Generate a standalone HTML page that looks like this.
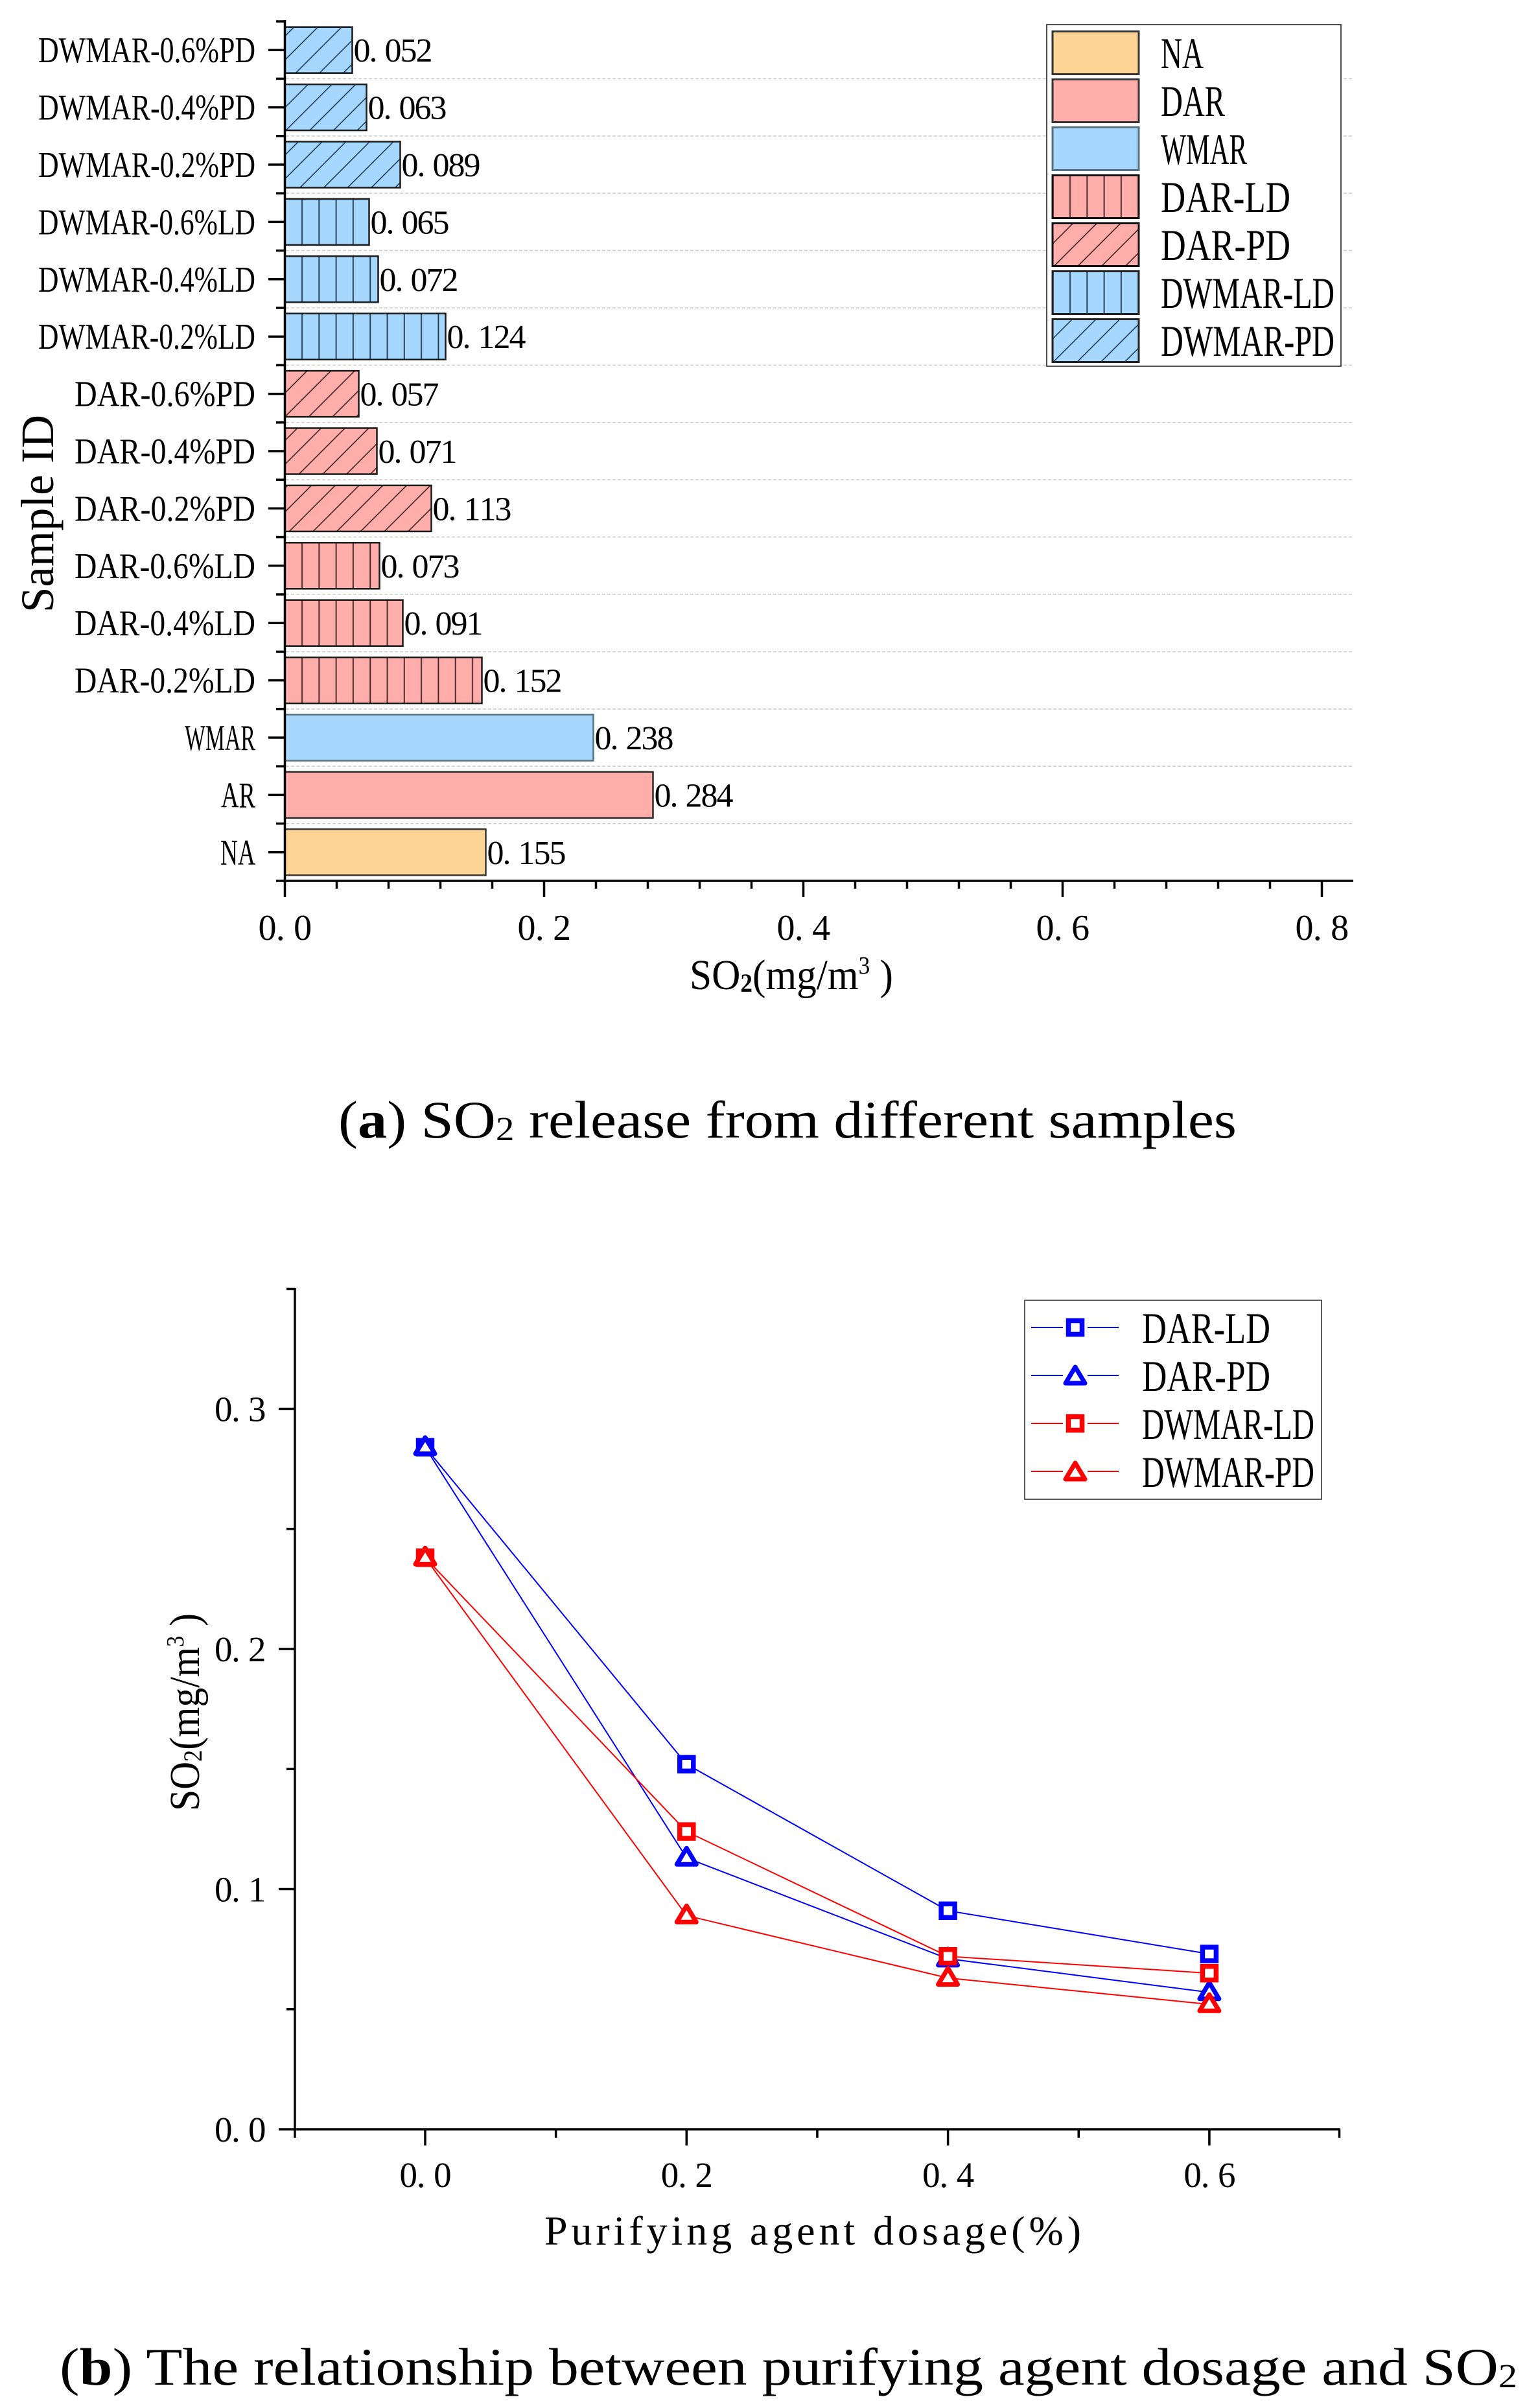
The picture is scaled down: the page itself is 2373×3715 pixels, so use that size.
<!DOCTYPE html>
<html><head><meta charset="utf-8"><style>
html,body{margin:0;padding:0;background:#fff;}
svg{display:block;}
text{font-family:"Liberation Serif","Noto Serif CJK SC",serif;fill:#000;}
</style></head><body>
<svg width="2373" height="3715" viewBox="0 0 2373 3715" xmlns="http://www.w3.org/2000/svg">
<defs>
<pattern id="vp" patternUnits="userSpaceOnUse" x="426.55" y="0" width="26.3" height="20"><rect width="26.3" height="20" fill="#FFAEAB"/><line x1="13.15" y1="0" x2="13.15" y2="20" stroke="#4d2b2b" stroke-width="2"/></pattern>
<pattern id="vb" patternUnits="userSpaceOnUse" x="426.55" y="0" width="26.3" height="20"><rect width="26.3" height="20" fill="#A5D7FF"/><line x1="13.15" y1="0" x2="13.15" y2="20" stroke="#2b4257" stroke-width="2"/></pattern>
<pattern id="dp" patternUnits="userSpaceOnUse" x="0" y="0" width="25.95" height="20" patternTransform="rotate(45)"><rect x="-1" y="-1" width="28" height="22" fill="#FFAEAB"/><line x1="13" y1="-2" x2="13" y2="22" stroke="#3a2020" stroke-width="1.6"/></pattern>
<pattern id="db" patternUnits="userSpaceOnUse" x="0" y="0" width="25.95" height="20" patternTransform="rotate(45)"><rect x="-1" y="-1" width="28" height="22" fill="#A5D7FF"/><line x1="13" y1="-2" x2="13" y2="22" stroke="#1f3a55" stroke-width="1.6"/></pattern>
<pattern id="vpL" patternUnits="userSpaceOnUse" x="1637.85" y="0" width="26.3" height="20"><rect width="26.3" height="20" fill="#FFAEAB"/><line x1="13.15" y1="0" x2="13.15" y2="20" stroke="#4d2b2b" stroke-width="2"/></pattern>
<pattern id="vbL" patternUnits="userSpaceOnUse" x="1637.85" y="0" width="26.3" height="20"><rect width="26.3" height="20" fill="#A5D7FF"/><line x1="13.15" y1="0" x2="13.15" y2="20" stroke="#2b4257" stroke-width="2"/></pattern>
</defs>

<!-- ================= CHART A ================= -->
<g stroke="#cfcfcf" stroke-width="1.6" stroke-dasharray="5,3">
<line x1="441" y1="121.4" x2="2086" y2="121.4"/>
<line x1="441" y1="209.8" x2="2086" y2="209.8"/>
<line x1="441" y1="298.2" x2="2086" y2="298.2"/>
<line x1="441" y1="386.6" x2="2086" y2="386.6"/>
<line x1="441" y1="475" x2="2086" y2="475"/>
<line x1="441" y1="563.4" x2="2086" y2="563.4"/>
<line x1="441" y1="651.8" x2="2086" y2="651.8"/>
<line x1="441" y1="740.2" x2="2086" y2="740.2"/>
<line x1="441" y1="828.6" x2="2086" y2="828.6"/>
<line x1="441" y1="917" x2="2086" y2="917"/>
<line x1="441" y1="1005.4" x2="2086" y2="1005.4"/>
<line x1="441" y1="1093.8" x2="2086" y2="1093.8"/>
<line x1="441" y1="1182.2" x2="2086" y2="1182.2"/>
<line x1="441" y1="1270.6" x2="2086" y2="1270.6"/>
</g>

<g stroke="#1a1a1a" stroke-width="2.5">
<rect x="439.5" y="41.7" width="104" height="71" fill="url(#db)"/>
<rect x="439.5" y="130.1" width="126" height="71" fill="url(#db)"/>
<rect x="439.5" y="218.5" width="178" height="71" fill="url(#db)"/>
<rect x="439.5" y="306.9" width="130" height="71" fill="url(#vb)"/>
<rect x="439.5" y="395.3" width="144" height="71" fill="url(#vb)"/>
<rect x="439.5" y="483.7" width="248" height="71" fill="url(#vb)"/>
<rect x="439.5" y="572.1" width="114" height="71" fill="url(#dp)"/>
<rect x="439.5" y="660.5" width="142" height="71" fill="url(#dp)"/>
<rect x="439.5" y="748.9" width="226" height="71" fill="url(#dp)"/>
<rect x="439.5" y="837.3" width="146" height="71" fill="url(#vp)"/>
<rect x="439.5" y="925.7" width="182" height="71" fill="url(#vp)"/>
<rect x="439.5" y="1014.1" width="304" height="71" fill="url(#vp)"/>
<rect x="439.5" y="1102.5" width="476" height="71" fill="#A5D7FF" stroke="#56707f"/>
<rect x="439.5" y="1190.9" width="568" height="71" fill="#FFAEAB" stroke="#2a2a2a"/>
<rect x="439.5" y="1279.3" width="310" height="71" fill="#FFD494" stroke="#333"/>
</g>

<!-- value labels (monospaced cells) -->
<g font-size="52">
<text x="545.5 569.5 593.5 617.5 641.5" y="95.2">0.052</text>
<text x="567.5 591.5 615.5 639.5 663.5" y="183.6">0.063</text>
<text x="619.5 643.5 667.5 691.5 715.5" y="272">0.089</text>
<text x="571.5 595.5 619.5 643.5 667.5" y="360.4">0.065</text>
<text x="585.5 609.5 633.5 657.5 681.5" y="448.8">0.072</text>
<text x="689.5 713.5 737.5 761.5 785.5" y="537.2">0.124</text>
<text x="555.5 579.5 603.5 627.5 651.5" y="625.6">0.057</text>
<text x="583.5 607.5 631.5 655.5 679.5" y="714">0.071</text>
<text x="667.5 691.5 715.5 739.5 763.5" y="802.4">0.113</text>
<text x="587.5 611.5 635.5 659.5 683.5" y="890.8">0.073</text>
<text x="623.5 647.5 671.5 695.5 719.5" y="979.2">0.091</text>
<text x="745.5 769.5 793.5 817.5 841.5" y="1067.6">0.152</text>
<text x="917.5 941.5 965.5 989.5 1013.5" y="1156">0.238</text>
<text x="1009.5 1033.5 1057.5 1081.5 1105.5" y="1244.4">0.284</text>
<text x="751.5 775.5 799.5 823.5 847.5" y="1332.8">0.155</text>
</g>

<g font-size="56">
<text x="59" y="96.2" textLength="335" lengthAdjust="spacingAndGlyphs">DWMAR-0.6%PD</text>
<text x="59" y="184.6" textLength="335" lengthAdjust="spacingAndGlyphs">DWMAR-0.4%PD</text>
<text x="59" y="273" textLength="335" lengthAdjust="spacingAndGlyphs">DWMAR-0.2%PD</text>
<text x="59" y="361.4" textLength="335" lengthAdjust="spacingAndGlyphs">DWMAR-0.6%LD</text>
<text x="59" y="449.8" textLength="335" lengthAdjust="spacingAndGlyphs">DWMAR-0.4%LD</text>
<text x="59" y="538.2" textLength="335" lengthAdjust="spacingAndGlyphs">DWMAR-0.2%LD</text>
<text x="115" y="626.6" textLength="279" lengthAdjust="spacingAndGlyphs">DAR-0.6%PD</text>
<text x="115" y="715" textLength="279" lengthAdjust="spacingAndGlyphs">DAR-0.4%PD</text>
<text x="115" y="803.4" textLength="279" lengthAdjust="spacingAndGlyphs">DAR-0.2%PD</text>
<text x="115" y="891.8" textLength="279" lengthAdjust="spacingAndGlyphs">DAR-0.6%LD</text>
<text x="115" y="980.2" textLength="279" lengthAdjust="spacingAndGlyphs">DAR-0.4%LD</text>
<text x="115" y="1068.6" textLength="279" lengthAdjust="spacingAndGlyphs">DAR-0.2%LD</text>
<text x="285" y="1157" textLength="109" lengthAdjust="spacingAndGlyphs">WMAR</text>
<text x="341" y="1245.4" textLength="53" lengthAdjust="spacingAndGlyphs">AR</text>
<text x="340" y="1333.8" textLength="54" lengthAdjust="spacingAndGlyphs">NA</text>
</g>

<g stroke="#000" stroke-width="3.5">
<line x1="439.5" y1="31" x2="439.5" y2="1361"/>
<line x1="437.5" y1="1359" x2="2088" y2="1359"/>
<line x1="414" y1="77.2" x2="439.5" y2="77.2"/>
<line x1="414" y1="165.6" x2="439.5" y2="165.6"/>
<line x1="414" y1="254" x2="439.5" y2="254"/>
<line x1="414" y1="342.4" x2="439.5" y2="342.4"/>
<line x1="414" y1="430.8" x2="439.5" y2="430.8"/>
<line x1="414" y1="519.2" x2="439.5" y2="519.2"/>
<line x1="414" y1="607.6" x2="439.5" y2="607.6"/>
<line x1="414" y1="696" x2="439.5" y2="696"/>
<line x1="414" y1="784.4" x2="439.5" y2="784.4"/>
<line x1="414" y1="872.8" x2="439.5" y2="872.8"/>
<line x1="414" y1="961.2" x2="439.5" y2="961.2"/>
<line x1="414" y1="1049.6" x2="439.5" y2="1049.6"/>
<line x1="414" y1="1138" x2="439.5" y2="1138"/>
<line x1="414" y1="1226.4" x2="439.5" y2="1226.4"/>
<line x1="414" y1="1314.8" x2="439.5" y2="1314.8"/>
<line x1="426" y1="33" x2="439.5" y2="33"/>
<line x1="426" y1="121.4" x2="439.5" y2="121.4"/>
<line x1="426" y1="209.8" x2="439.5" y2="209.8"/>
<line x1="426" y1="298.2" x2="439.5" y2="298.2"/>
<line x1="426" y1="386.6" x2="439.5" y2="386.6"/>
<line x1="426" y1="475" x2="439.5" y2="475"/>
<line x1="426" y1="563.4" x2="439.5" y2="563.4"/>
<line x1="426" y1="651.8" x2="439.5" y2="651.8"/>
<line x1="426" y1="740.2" x2="439.5" y2="740.2"/>
<line x1="426" y1="828.6" x2="439.5" y2="828.6"/>
<line x1="426" y1="917" x2="439.5" y2="917"/>
<line x1="426" y1="1005.4" x2="439.5" y2="1005.4"/>
<line x1="426" y1="1093.8" x2="439.5" y2="1093.8"/>
<line x1="426" y1="1182.2" x2="439.5" y2="1182.2"/>
<line x1="426" y1="1270.6" x2="439.5" y2="1270.6"/>
<line x1="426" y1="1359" x2="439.5" y2="1359"/>
<line x1="439.5" y1="1359" x2="439.5" y2="1384"/>
<line x1="839.5" y1="1359" x2="839.5" y2="1384"/>
<line x1="1239.5" y1="1359" x2="1239.5" y2="1384"/>
<line x1="1639.5" y1="1359" x2="1639.5" y2="1384"/>
<line x1="2039.5" y1="1359" x2="2039.5" y2="1384"/>
<line x1="519.5" y1="1359" x2="519.5" y2="1371"/>
<line x1="599.5" y1="1359" x2="599.5" y2="1371"/>
<line x1="679.5" y1="1359" x2="679.5" y2="1371"/>
<line x1="759.5" y1="1359" x2="759.5" y2="1371"/>
<line x1="919.5" y1="1359" x2="919.5" y2="1371"/>
<line x1="999.5" y1="1359" x2="999.5" y2="1371"/>
<line x1="1079.5" y1="1359" x2="1079.5" y2="1371"/>
<line x1="1159.5" y1="1359" x2="1159.5" y2="1371"/>
<line x1="1319.5" y1="1359" x2="1319.5" y2="1371"/>
<line x1="1399.5" y1="1359" x2="1399.5" y2="1371"/>
<line x1="1479.5" y1="1359" x2="1479.5" y2="1371"/>
<line x1="1559.5" y1="1359" x2="1559.5" y2="1371"/>
<line x1="1719.5" y1="1359" x2="1719.5" y2="1371"/>
<line x1="1799.5" y1="1359" x2="1799.5" y2="1371"/>
<line x1="1879.5" y1="1359" x2="1879.5" y2="1371"/>
<line x1="1959.5" y1="1359" x2="1959.5" y2="1371"/>
</g>

<g font-size="56">
<text x="398.5 425.8 453.1" y="1450">0.0</text>
<text x="798.5 825.8 853.1" y="1450">0.2</text>
<text x="1198.5 1225.8 1253.1" y="1450">0.4</text>
<text x="1598.5 1625.8 1653.1" y="1450">0.6</text>
<text x="1998.5 2025.8 2053.1" y="1450">0.8</text>
</g>

<text x="1064" y="1526" font-size="66" textLength="314" lengthAdjust="spacingAndGlyphs">SO<tspan font-size="40" font-weight="bold" dy="4">2</tspan><tspan dy="-4">(mg/m</tspan><tspan font-size="38" dy="-24">3</tspan><tspan dy="24"> )</tspan></text>
<text transform="translate(82,945) rotate(-90)" x="0" y="0" font-size="72" textLength="305" lengthAdjust="spacingAndGlyphs">Sample ID</text>

<rect x="1615" y="38" width="454" height="527" fill="#fff" stroke="#222" stroke-width="1.6"/>
<g stroke-width="3">
<rect x="1624" y="48.5" width="133" height="66" fill="#FFD494" stroke="#333"/>
<rect x="1624" y="122.5" width="133" height="66" fill="#FFAEAB" stroke="#333"/>
<rect x="1624" y="196.5" width="133" height="66" fill="#A5D7FF" stroke="#56707f"/>
<rect x="1624" y="270.5" width="133" height="66" fill="url(#vpL)" stroke="#111"/>
<rect x="1624" y="344.5" width="133" height="66" fill="url(#dp)" stroke="#111"/>
<rect x="1624" y="418.5" width="133" height="66" fill="url(#vbL)" stroke="#222"/>
<rect x="1624" y="492.5" width="133" height="66" fill="url(#db)" stroke="#222"/>
</g>
<g font-size="68">
<text x="1791" y="105" textLength="66" lengthAdjust="spacingAndGlyphs">NA</text>
<text x="1791" y="179" textLength="99" lengthAdjust="spacingAndGlyphs">DAR</text>
<text x="1791" y="253" textLength="133" lengthAdjust="spacingAndGlyphs">WMAR</text>
<text x="1791" y="327" textLength="200" lengthAdjust="spacingAndGlyphs">DAR-LD</text>
<text x="1791" y="401" textLength="200" lengthAdjust="spacingAndGlyphs">DAR-PD</text>
<text x="1791" y="475" textLength="268" lengthAdjust="spacingAndGlyphs">DWMAR-LD</text>
<text x="1791" y="549" textLength="268" lengthAdjust="spacingAndGlyphs">DWMAR-PD</text>
</g>

<text x="522" y="1755" font-size="82" textLength="1386" lengthAdjust="spacingAndGlyphs">(<tspan font-weight="bold">a</tspan>) SO<tspan font-size="52" dy="4">2</tspan><tspan dy="-4"> release from different samples</tspan></text>

<!-- ================= CHART B ================= -->
<g fill="none" stroke-width="2">
<polyline points="656,2232.8 1059.3,2721.8 1462.6,2947.8 1865.9,3014.5" stroke="#0000FF"/>
<polyline points="656,2232.8 1059.3,2866.3 1462.6,3021.9 1865.9,3073.8" stroke="#0000FF"/>
<polyline points="656,2403.2 1059.3,2825.6 1462.6,3018.2 1865.9,3044.2" stroke="#FF0000"/>
<polyline points="656,2403.2 1059.3,2955.3 1462.6,3051.6 1865.9,3092.3" stroke="#FF0000"/>
</g>
<g fill="#fff" stroke-width="7.5" stroke="#0000FF">
<rect x="645.5" y="2222.3" width="21" height="21"/>
<rect x="1048.8" y="2711.3" width="21" height="21"/>
<rect x="1452.1" y="2937.3" width="21" height="21"/>
<rect x="1855.4" y="3004" width="21" height="21"/>
</g>
<g fill="#fff" stroke-width="7" stroke="#0000FF" stroke-linejoin="round">
<polygon points="656,2217.8 671,2242.8 641,2242.8"/>
<polygon points="1059.3,2851.3 1074.3,2876.3 1044.3,2876.3"/>
<polygon points="1462.6,3006.9 1477.6,3031.9 1447.6,3031.9"/>
<polygon points="1865.9,3058.8 1880.9,3083.8 1850.9,3083.8"/>
</g>
<g fill="#fff" stroke-width="7.5" stroke="#FF0000">
<rect x="645.5" y="2392.7" width="21" height="21"/>
<rect x="1048.8" y="2815.1" width="21" height="21"/>
<rect x="1452.1" y="3007.7" width="21" height="21"/>
<rect x="1855.4" y="3033.7" width="21" height="21"/>
</g>
<g fill="#fff" stroke-width="7" stroke="#FF0000" stroke-linejoin="round">
<polygon points="656,2388.2 671,2413.2 641,2413.2"/>
<polygon points="1059.3,2940.3 1074.3,2965.3 1044.3,2965.3"/>
<polygon points="1462.6,3036.6 1477.6,3061.6 1447.6,3061.6"/>
<polygon points="1865.9,3077.3 1880.9,3102.3 1850.9,3102.3"/>
</g>

<g stroke="#000" stroke-width="3.5">
<line x1="455" y1="1987" x2="455" y2="3287"/>
<line x1="453" y1="3285" x2="2068" y2="3285"/>
<line x1="430" y1="3285" x2="455" y2="3285"/>
<line x1="430" y1="2914.5" x2="455" y2="2914.5"/>
<line x1="430" y1="2544" x2="455" y2="2544"/>
<line x1="430" y1="2173.5" x2="455" y2="2173.5"/>
<line x1="442" y1="3099.75" x2="455" y2="3099.75"/>
<line x1="442" y1="2729.25" x2="455" y2="2729.25"/>
<line x1="442" y1="2358.75" x2="455" y2="2358.75"/>
<line x1="442" y1="1988.5" x2="455" y2="1988.5"/>
<line x1="656" y1="3285" x2="656" y2="3310"/>
<line x1="1059.3" y1="3285" x2="1059.3" y2="3310"/>
<line x1="1462.6" y1="3285" x2="1462.6" y2="3310"/>
<line x1="1865.9" y1="3285" x2="1865.9" y2="3310"/>
<line x1="455" y1="3285" x2="455" y2="3298"/>
<line x1="857.65" y1="3285" x2="857.65" y2="3298"/>
<line x1="1260.95" y1="3285" x2="1260.95" y2="3298"/>
<line x1="1664.25" y1="3285" x2="1664.25" y2="3298"/>
<line x1="2066.5" y1="3285" x2="2066.5" y2="3298"/>
</g>

<g font-size="55">
<text x="331 357 383" y="3304">0.0</text>
<text x="331 357 383" y="2933.5">0.1</text>
<text x="331 357 383" y="2563">0.2</text>
<text x="331 357 383" y="2192.5">0.3</text>
<text x="616.5 642.8 669.1" y="3374">0.0</text>
<text x="1019.8 1046.1 1072.4" y="3374">0.2</text>
<text x="1423.1 1449.4 1475.7" y="3374">0.4</text>
<text x="1826.4 1852.7 1879" y="3374">0.6</text>
</g>

<text x="840" y="3463" font-size="64" textLength="828" lengthAdjust="spacing">Purifying agent dosage(%)</text>
<text transform="translate(307,2794) rotate(-90)" x="0" y="0" font-size="66" textLength="305" lengthAdjust="spacingAndGlyphs">SO<tspan font-size="40" dy="4">2</tspan><tspan dy="-4">(mg/m</tspan><tspan font-size="38" dy="-24">3</tspan><tspan dy="24"> )</tspan></text>

<rect x="1581" y="2006" width="458" height="307" fill="#fff" stroke="#333" stroke-width="1.6"/>
<g stroke-width="2" fill="none">
<line x1="1591" y1="2048" x2="1640" y2="2048" stroke="#0000FF"/>
<line x1="1678" y1="2048" x2="1726" y2="2048" stroke="#0000FF"/>
<line x1="1591" y1="2122" x2="1640" y2="2122" stroke="#0000FF"/>
<line x1="1678" y1="2122" x2="1726" y2="2122" stroke="#0000FF"/>
<line x1="1591" y1="2196" x2="1640" y2="2196" stroke="#FF0000"/>
<line x1="1678" y1="2196" x2="1726" y2="2196" stroke="#FF0000"/>
<line x1="1591" y1="2270" x2="1640" y2="2270" stroke="#FF0000"/>
<line x1="1678" y1="2270" x2="1726" y2="2270" stroke="#FF0000"/>
</g>
<rect x="1648.5" y="2037.5" width="21" height="21" fill="#fff" stroke="#0000FF" stroke-width="7.5"/>
<polygon points="1659,2109 1674,2134 1644,2134" fill="#fff" stroke="#0000FF" stroke-width="7" stroke-linejoin="round"/>
<rect x="1648.5" y="2185.5" width="21" height="21" fill="#fff" stroke="#FF0000" stroke-width="7.5"/>
<polygon points="1659,2257 1674,2282 1644,2282" fill="#fff" stroke="#FF0000" stroke-width="7" stroke-linejoin="round"/>
<g font-size="68">
<text x="1762" y="2072" textLength="198" lengthAdjust="spacingAndGlyphs">DAR-LD</text>
<text x="1762" y="2146" textLength="198" lengthAdjust="spacingAndGlyphs">DAR-PD</text>
<text x="1762" y="2220" textLength="266" lengthAdjust="spacingAndGlyphs">DWMAR-LD</text>
<text x="1762" y="2294" textLength="266" lengthAdjust="spacingAndGlyphs">DWMAR-PD</text>
</g>

<text x="92" y="3679" font-size="82" textLength="2249" lengthAdjust="spacingAndGlyphs">(<tspan font-weight="bold">b</tspan>) The relationship between purifying agent dosage and SO<tspan font-size="52" dy="4">2</tspan></text>
</svg>
</body></html>
